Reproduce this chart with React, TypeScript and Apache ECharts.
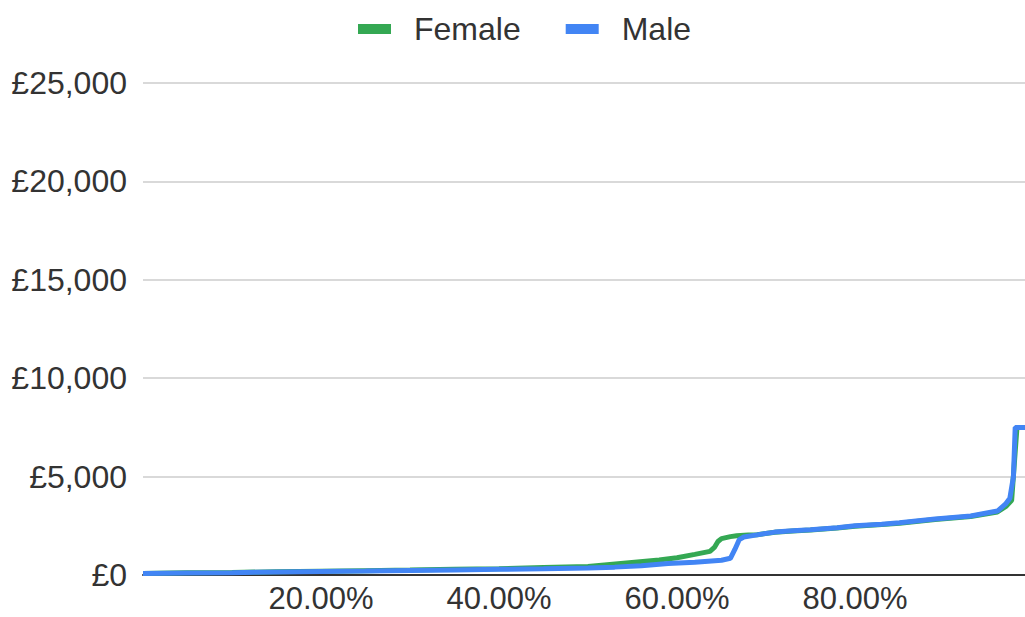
import React, { useEffect, useRef } from "react";
import * as echarts from "echarts";

// Share of people (0..1) and the amount at that point, per group
const femaleShare = [0, 0.05, 0.1, 0.15, 0.2, 0.25, 0.3, 0.35, 0.4, 0.45, 0.5, 0.54, 0.58, 0.6, 0.62, 0.637, 0.642, 0.646, 0.65, 0.66, 0.667, 0.68, 0.69, 0.71, 0.73, 0.75, 0.78, 0.8, 0.83, 0.85, 0.89, 0.93, 0.96, 0.97, 0.976, 0.982, 1.0];
const femaleAmount = [80, 110, 130, 160, 190, 220, 250, 290, 320, 380, 430, 600, 760, 880, 1050, 1200, 1400, 1700, 1850, 1950, 1990, 2030, 2050, 2170, 2240, 2290, 2390, 2480, 2560, 2630, 2820, 2970, 3200, 3500, 3800, 7500, 7500];

const maleShare = [0, 0.05, 0.1, 0.15, 0.2, 0.25, 0.3, 0.35, 0.4, 0.45, 0.5, 0.53, 0.56, 0.59, 0.62, 0.65, 0.66, 0.665, 0.67, 0.675, 0.69, 0.71, 0.73, 0.75, 0.78, 0.8, 0.83, 0.85, 0.89, 0.93, 0.96, 0.969, 0.974, 0.978, 0.98, 1.0];
const maleAmount = [80, 100, 120, 150, 180, 200, 230, 260, 290, 320, 360, 400, 470, 580, 650, 750, 850, 1300, 1800, 1930, 2040, 2180, 2250, 2300, 2400, 2500, 2580, 2650, 2850, 3000, 3250, 3600, 3900, 5000, 7500, 7500];

const seriesNames = ["Female", "Male"];
const seriesColors = ["#34a853", "#4285f4"];

const yTicks = [0, 5000, 10000, 15000, 20000, 25000];
const xTicks = [0, 0.2, 0.4, 0.6, 0.8, 1.0];

const FONT = "'Liberation Sans', Arial, sans-serif";
const TEXT_COLOR = "#333333";

const pairs = (xs: number[], ys: number[]) => xs.map((x, i) => [x, ys[i]]);

export default function App() {
  const ref = useRef<HTMLDivElement>(null);

  useEffect(() => {
    if (!ref.current) return;
    const chart = echarts.init(ref.current, undefined, { renderer: "svg" });
    chart.setOption({
      animation: false,
      backgroundColor: "#ffffff",
      textStyle: { fontFamily: FONT },
      legend: {
        left: 353,
        top: 8,
        icon: "rect",
        itemWidth: 33,
        itemHeight: 10,
        itemGap: 45,
        data: seriesNames,
        textStyle: {
          fontFamily: FONT,
          fontSize: 32,
          color: TEXT_COLOR,
          padding: [0, 0, 0, 18],
        },
      },
      // the plot runs a little past the right edge of the visible frame
      grid: { left: 143, right: 0, top: 83, bottom: 42, containLabel: false },
      xAxis: {
        type: "value",
        min: xTicks[0],
        max: xTicks[xTicks.length - 1],
        interval: 0.2,
        splitLine: { show: false },
        axisTick: { show: false },
        axisLine: { show: true, lineStyle: { color: "#333333", width: 2 } },
        axisLabel: {
          showMinLabel: false,
          showMaxLabel: false,
          fontFamily: FONT,
          fontSize: 31,
          lineHeight: 22,
          color: TEXT_COLOR,
          margin: 12,
          formatter: (v: number) => (v * 100).toFixed(2) + "%",
        },
      },
      yAxis: {
        type: "value",
        min: yTicks[0],
        max: yTicks[yTicks.length - 1],
        interval: 5000,
        axisLine: { show: false },
        axisTick: { show: false },
        splitLine: { lineStyle: { color: "#cccccc", width: 1.5 } },
        axisLabel: {
          fontFamily: FONT,
          fontSize: 32,
          color: TEXT_COLOR,
          margin: 16,
          formatter: (v: number) => "£" + v.toLocaleString("en-GB"),
        },
      },
      series: [
        {
          name: seriesNames[0],
          type: "line",
          showSymbol: false,
          color: seriesColors[0],
          lineStyle: { width: 5, color: seriesColors[0] },
          data: pairs(femaleShare, femaleAmount),
        },
        {
          name: seriesNames[1],
          type: "line",
          showSymbol: false,
          color: seriesColors[1],
          lineStyle: { width: 5, color: seriesColors[1] },
          data: pairs(maleShare, maleAmount),
        },
      ],
    });
    return () => chart.dispose();
  }, []);

  return (
    <div
      style={{
        position: "fixed",
        left: 0,
        top: 0,
        width: 1025,
        height: 617,
        overflow: "hidden",
        background: "#ffffff",
      }}
    >
      <div ref={ref} style={{ width: 1033, height: 617 }} />
    </div>
  );
}
